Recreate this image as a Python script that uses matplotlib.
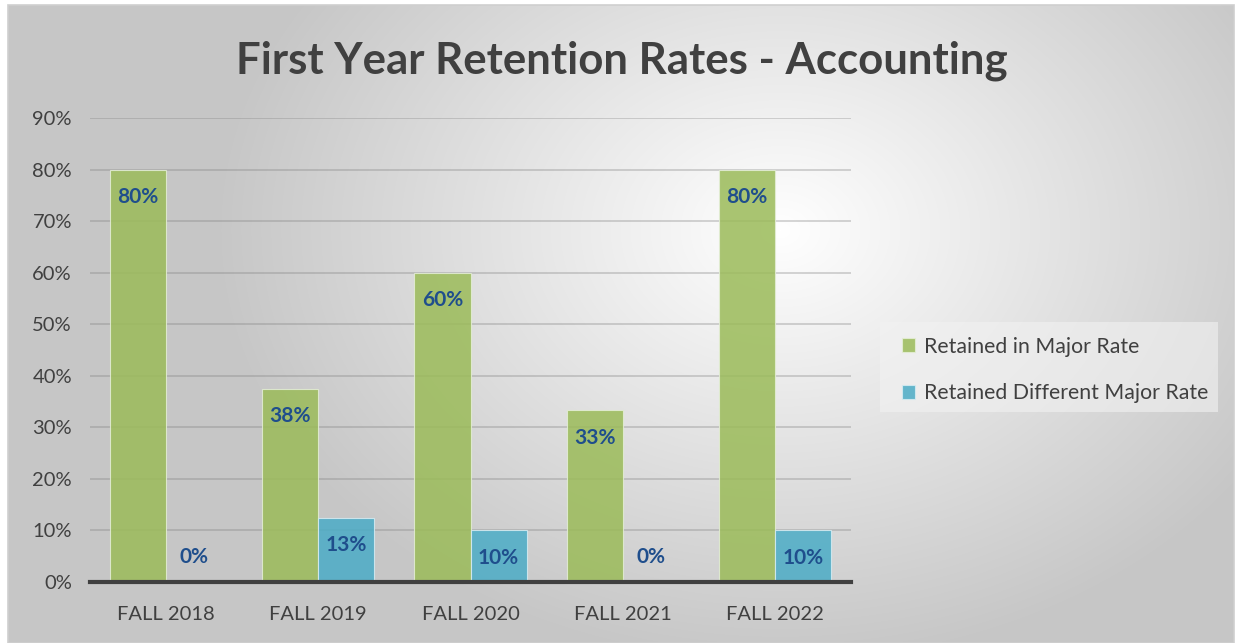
import numpy as np
import matplotlib.pyplot as plt
from matplotlib.patches import Rectangle

# ----------------------------
# Datos
# ----------------------------
categories = ["FALL 2018", "FALL 2019", "FALL 2020", "FALL 2021", "FALL 2022"]
retained_major = [0.80, 0.375, 0.60, 0.333, 0.80]
retained_other = [0.0, 0.125, 0.10, 0.0, 0.10]
series_names = ["Retained in Major Rate", "Retained Different Major Rate"]
yticks = [0.0, 0.1, 0.2, 0.3, 0.4, 0.5, 0.6, 0.7, 0.8, 0.9]

GREEN = "#9BBB59"
BLUE = "#4BACC6"
LABEL = "#1F4E8C"
DARK = "#404040"

plt.rcParams["font.family"] = ["Lato", "DejaVu Sans"]

W, H = 1235, 643
fig = plt.figure(figsize=(W / 100, H / 100), dpi=100)
fig.patch.set_facecolor("white")

# fondo con degradado radial (en pixeles)
x0, y0 = 8, 5
bw, bh = W - 1 - x0, H - y0
bg = fig.add_axes([x0 / W, 0, bw / W, bh / H], zorder=0)
py, px = np.mgrid[0:bh, 0:bw]
cx, cy = 780 - x0, 230 - y0
d = np.sqrt(((px - cx) / 560) ** 2 + ((py - cy) / 430) ** 2)
shade = 1.0 - 0.22 * np.clip(d, 0, 1)
bg.imshow(np.dstack([shade] * 3), aspect="auto", extent=[0, 1, 0, 1], origin="upper")
bg.set_xlim(0, 1)
bg.set_ylim(0, 1)
bg.axis("off")
fig.patches.append(Rectangle((x0 / W, 0), bw / W, bh / H, transform=fig.transFigure,
                             facecolor="none", edgecolor="#cfcfcf", linewidth=1.2, zorder=0.5))

# ----------------------------
# Barras
# ----------------------------
ax = fig.add_axes([90 / W, 61 / H, 761 / W, 464 / H], zorder=1)
ax.patch.set_alpha(0)
x = np.arange(len(categories))
w = 0.368
b1 = ax.bar(x - w / 2, retained_major, w, color=GREEN, alpha=0.85,
            edgecolor="#e4eed6", linewidth=0.8, label=series_names[0], zorder=3)
b2 = ax.bar(x + w / 2, retained_other, w, color=BLUE, alpha=0.85,
            edgecolor="#d6ecf2", linewidth=0.8, label=series_names[1], zorder=3)

for bars, vals in ((b1, retained_major), (b2, retained_other)):
    for rect, v in zip(bars, vals):
        off = -20 if v > 0.05 else 18
        ax.annotate(f"{int(v * 100 + 0.5)}%", (rect.get_x() + rect.get_width() / 2, v),
                    xytext=(0, off), textcoords="offset points",
                    ha="center", va="center", fontsize=15, fontweight="bold",
                    color=LABEL, zorder=5)

ax.set_xlim(-0.5, len(categories) - 0.5)
ax.set_ylim(0, 0.9)
ax.set_yticks(yticks)
ax.set_yticklabels([f"{t * 100:.0f}%" for t in yticks])
ax.set_xticks(x)
ax.set_xticklabels(categories)
ax.tick_params(axis="both", length=0, labelsize=14.5, colors=DARK)
ax.tick_params(axis="y", pad=13)
ax.tick_params(axis="x", pad=17)
ax.grid(axis="y", color="#808080", alpha=0.35, linewidth=1.3, zorder=1)
for s in ("top", "right", "left"):
    ax.spines[s].set_visible(False)
ax.spines["bottom"].set_color(DARK)
ax.spines["bottom"].set_linewidth(3)
ax.spines["bottom"].set_zorder(4)

fig.text(0.5 + 4 / W, 1 - 61 / H, "First Year Retention Rates - Accounting",
         ha="center", va="center", fontsize=31.5, fontweight="bold", color=DARK)

# leyenda
fig.patches.append(Rectangle((880 / W, 1 - 412 / H), 338 / W, 90 / H,
                             transform=fig.transFigure, facecolor="#f2f2f2",
                             alpha=0.6, edgecolor="none", zorder=1))
leg = fig.legend(handles=[b1, b2], loc="center left",
                 bbox_to_anchor=(883 / W, 1 - 370 / H), frameon=False,
                 fontsize=15.3, handlelength=0.6, handleheight=0.6,
                 handletextpad=0.45, labelspacing=1.25, labelcolor=DARK)

fig.savefig("out.png", dpi=100)
